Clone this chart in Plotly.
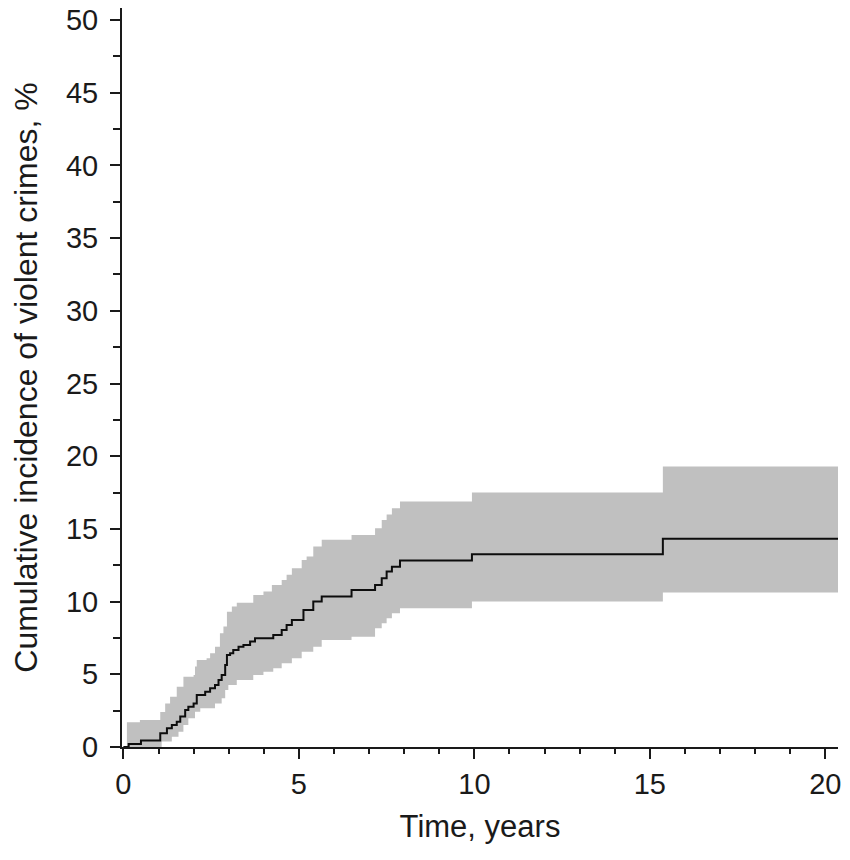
import plotly.graph_objects as go

# incidencia acumulada (escalones)
t_est = [0, 0.15, 0.5, 1.05, 1.24, 1.38, 1.52, 1.62, 1.76, 1.85, 2.0, 2.09, 2.33, 2.47, 2.61,
         2.71, 2.80, 2.90, 2.95, 3.04, 3.13, 3.28, 3.42, 3.61, 3.75, 4.27, 4.51, 4.65, 4.8,
         5.13, 5.41, 5.65, 6.5, 7.17, 7.36, 7.5, 7.65, 7.88, 9.93, 15.37, 20.42]
ci_est = [0, 0.2, 0.45, 0.94, 1.29, 1.51, 1.74, 2.09, 2.55, 2.77, 3.0, 3.58, 3.8, 4.04, 4.27,
          4.61, 4.96, 5.64, 6.33, 6.45, 6.68, 6.9, 7.02, 7.25, 7.48, 7.71, 8.05, 8.4, 8.74,
          9.43, 10.0, 10.35, 10.8, 11.15, 11.6, 12.07, 12.4, 12.82, 13.26, 14.32, 14.32]

# banda de confianza 95%
t_upper = [0.1, 0.47, 1.05, 1.19, 1.33, 1.52, 1.71, 2.0, 2.04, 2.09, 2.37, 2.47, 2.61, 2.75,
           2.85, 2.95, 3.09, 3.23, 3.7, 3.99, 4.23, 4.51, 4.65, 4.8, 5.08, 5.22, 5.41, 5.65,
           6.5, 7.17, 7.36, 7.5, 7.65, 7.88, 9.93, 15.37, 20.42]
ci_upper = [1.7, 1.86, 2.4, 3.0, 3.46, 4.15, 4.84, 4.96, 5.53, 5.99, 6.1, 6.45, 6.9, 7.82,
            8.28, 9.31, 9.66, 9.93, 10.46, 10.69, 11.15, 11.49, 11.84, 12.3, 12.87, 13.1, 13.79, 14.25,
            14.59, 15.05, 15.62, 16.0, 16.43, 16.88, 17.5, 19.29, 19.29]

t_lower = [0.1, 1.09, 1.38, 1.57, 1.71, 1.85, 2.04, 2.19, 2.61, 2.80, 2.9, 2.99, 3.23, 3.7,
           3.99, 4.27, 4.51, 4.8, 5.08, 5.41, 5.65, 6.5, 7.17, 7.36, 7.5, 7.65, 7.88, 9.93,
           15.37, 20.42]
ci_lower = [0, 0.37, 0.71, 1.05, 1.51, 1.97, 2.43, 2.66, 3.0, 3.35, 3.92, 4.27, 4.61, 4.96,
            5.18, 5.41, 5.76, 6.1, 6.56, 6.9, 7.36, 7.59, 8.17, 8.51, 8.86, 9.2, 9.55, 10.0,
            10.62, 10.62]

BAND = "#c0c0c0"
INK = "#1a1a1a"
FONT = "Liberation Sans, Arial, sans-serif"

fig = go.Figure()
fig.add_trace(go.Scatter(x=t_lower, y=ci_lower, mode="lines", line=dict(width=0, shape="hv"),
                         hoverinfo="skip", showlegend=False))
fig.add_trace(go.Scatter(x=t_upper, y=ci_upper, mode="lines", line=dict(width=0, shape="hv"),
                         fill="tonexty", fillcolor=BAND, hoverinfo="skip", showlegend=False))
fig.add_trace(go.Scatter(x=t_est, y=ci_est, mode="lines",
                         line=dict(color="#0d0d0d", width=2, shape="hv"), showlegend=False))

# la pagina tiene 8px de margen en body: figura algo mas pequena
fig.update_layout(
    width=842, height=852,
    margin=dict(l=114, r=12, t=0, b=113),
    paper_bgcolor="white", plot_bgcolor="white",
    font=dict(family=FONT, size=29, color=INK),
    xaxis=dict(
        range=[-0.04, 20.36], tickmode="linear", tick0=0, dtick=5,
        ticks="outside", ticklen=10, tickwidth=2, tickcolor=INK,
        minor=dict(dtick=1, tick0=0, ticks="outside", ticklen=5, tickwidth=2, tickcolor=INK),
        showline=True, linewidth=2, linecolor=INK, showgrid=False, zeroline=False,
        automargin=False, ticklabeloverflow="allow",
        title=dict(text="Time, years", standoff=17, font=dict(family=FONT, size=31, color=INK)),
    ),
    yaxis=dict(
        range=[0, 50.83], tickmode="linear", tick0=0, dtick=5,
        ticks="outside", ticklen=10, tickwidth=2, tickcolor=INK,
        minor=dict(dtick=2.5, tick0=0, ticks="outside", ticklen=7, tickwidth=2, tickcolor=INK),
        showline=True, linewidth=2, linecolor=INK, showgrid=False, zeroline=False,
        automargin=False, ticklabelstandoff=6, ticklabeloverflow="allow",
        title=dict(text="Cumulative incidence of violent crimes, %", standoff=26,
                   font=dict(family=FONT, size=32, color=INK)),
    ),
)

fig.write_html("out.html")
